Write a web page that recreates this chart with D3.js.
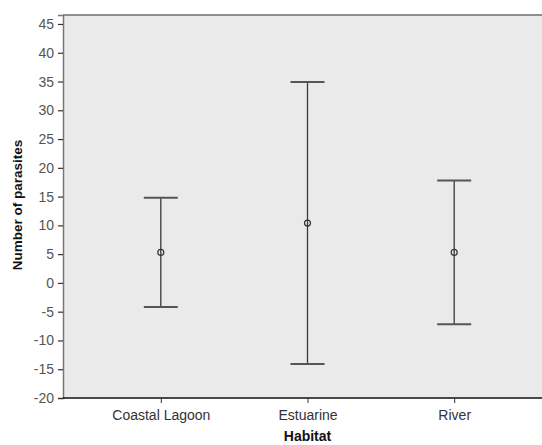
<!DOCTYPE html>
<html>
<head>
<meta charset="utf-8">
<script src="https://cdn.jsdelivr.net/npm/d3@7"></script>
<style>
  body { margin: 0; background: #fff; }
  text { font-family: "Liberation Sans", Arial, sans-serif; }
</style>
</head>
<body>
<script>
// data
const habitats = ["Coastal Lagoon", "Estuarine", "River"];
const means = [5.3, 10.4, 5.3];
const upper = [14.8, 34.9, 17.8];
const lower = [-4.2, -14.1, -7.2];
const yTicks = [-20, -15, -10, -5, 0, 5, 10, 15, 20, 25, 30, 35, 40, 45];

const W = 542, H = 445;
const pLeft = 63, pTop = 15, pBottom = 398, pRight = 552;

const svg = d3.select("body").append("svg")
    .attr("width", W)
    .attr("height", H);

const x = d3.scalePoint()
    .domain(habitats)
    .range([pLeft, pRight])
    .padding(2 / 3);

const y = d3.scaleLinear()
    .domain([-20, 46.56])
    .range([pBottom, pTop]);

// plot background
svg.append("rect")
    .attr("x", pLeft).attr("y", pTop)
    .attr("width", pRight - pLeft).attr("height", pBottom - pTop)
    .attr("fill", "#eaeaea");

// top frame
svg.append("line")
    .attr("x1", pLeft).attr("x2", pRight)
    .attr("y1", pTop).attr("y2", pTop)
    .attr("stroke", "#6e6e6e").attr("stroke-width", 1.5);

// y axis (plain hyphen for negatives, like the original)
const yAxis = svg.append("g")
    .attr("transform", "translate(" + pLeft + ",0)")
    .call(d3.axisLeft(y).tickValues(yTicks).tickFormat(d => String(d))
        .tickSize(5).tickPadding(4));
yAxis.select(".domain").attr("stroke", "#777").attr("stroke-width", 1.5);
yAxis.selectAll(".tick line").attr("stroke", "#333").attr("stroke-width", 1.2);
yAxis.selectAll(".tick text")
    .attr("fill", "#555")
    .style("font-size", "14px");

// x axis
const xAxis = svg.append("g")
    .attr("transform", "translate(0," + pBottom + ")")
    .call(d3.axisBottom(x).tickSize(5).tickPadding(7));
xAxis.select(".domain").attr("stroke", "#111").attr("stroke-width", 1.5)
    .attr("d", "M" + pLeft + ",0H" + pRight);
xAxis.selectAll(".tick line").attr("stroke", "#333");
xAxis.selectAll(".tick text")
    .attr("fill", "#333")
    .style("font-size", "14px");

// error bars
const capW = 17;
const g = svg.append("g");
habitats.forEach(function (h, i) {
    const cx = x(h);
    g.append("line")
        .attr("x1", cx).attr("x2", cx)
        .attr("y1", y(upper[i])).attr("y2", y(lower[i]))
        .attr("stroke", "#3a3a3a").attr("stroke-width", 1.3);
    [upper[i], lower[i]].forEach(function (v) {
        g.append("line")
            .attr("x1", cx - capW).attr("x2", cx + capW)
            .attr("y1", y(v)).attr("y2", y(v))
            .attr("stroke", "#555").attr("stroke-width", 2);
    });
    g.append("circle")
        .attr("cx", cx).attr("cy", y(means[i]))
        .attr("r", 3)
        .attr("fill", "none")
        .attr("stroke", "#333").attr("stroke-width", 1.2);
});

// axis titles
svg.append("text")
    .attr("text-anchor", "middle")
    .attr("transform", "translate(22,205)rotate(-90)")
    .style("font-size", "13.5px")
    .style("font-weight", "bold")
    .attr("fill", "#111")
    .text("Number of parasites");

svg.append("text")
    .attr("text-anchor", "middle")
    .attr("x", x("Estuarine"))
    .attr("y", 441)
    .style("font-size", "14px")
    .style("font-weight", "bold")
    .attr("fill", "#111")
    .text("Habitat");
</script>
</body>
</html>
